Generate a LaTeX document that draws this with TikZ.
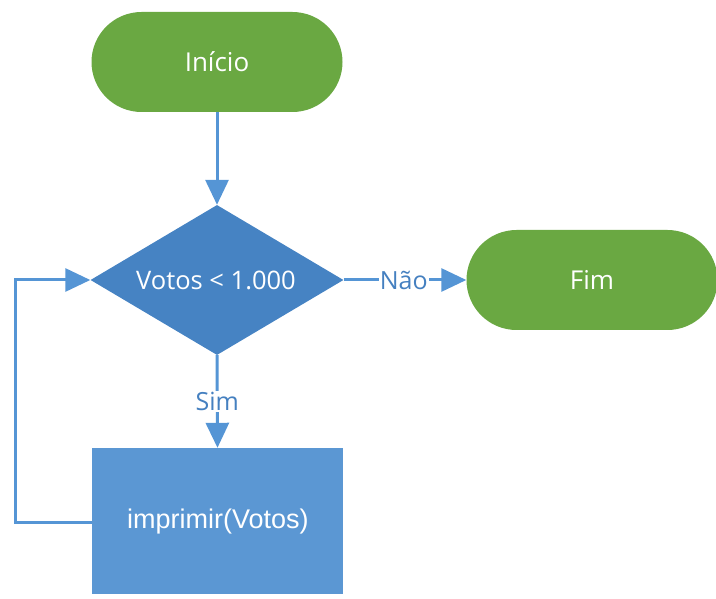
\documentclass[tikz,border=0pt]{standalone}
\usepackage{fontspec}
\setmainfont{Open Sans}
\newfontfamily\arialfont{Liberation Sans}
\usetikzlibrary{shapes.geometric,arrows.meta}
\definecolor{fgreen}{HTML}{6AA842}
\definecolor{dblue}{HTML}{4683C3}
\definecolor{rblue}{HTML}{5B97D3}
\definecolor{lblue}{HTML}{5595D5}
\definecolor{tblue}{HTML}{4580C0}
\begin{document}
\begin{tikzpicture}[x=1pt,y=-1pt,
  term/.style={draw=none,fill=fgreen,rounded corners=50pt,minimum width=251pt,minimum height=100pt,text=white,font=\fontsize{26}{30}\selectfont},
  decision/.style={diamond,draw=none,fill=dblue,minimum width=253pt,minimum height=150pt,inner sep=0pt},
  dectext/.style={text=white,font=\fontsize{25.5}{30}\selectfont},
  proc/.style={rectangle,draw=none,fill=rblue,minimum width=251pt,minimum height=146pt},
  proctext/.style={text=white,font=\arialfont\fontsize{27}{31}\selectfont},
  conn/.style={draw=lblue,line width=3pt,-{Triangle[length=25pt,width=23pt]}},
  lab/.style={fill=white,text=tblue,inner sep=1pt,font=\fontsize{25}{28}\selectfont}]
\useasboundingbox (0,0) rectangle (716,599);
\node[term] (ini) at (217,62) {Início};
\node[decision] (dec) at (217,280) {};
\node[dectext] (dect) at (216,280) {Votos < 1.000};
\node[term] (fim) at (592,280) {Fim};
\node[proc] (pr) at (217.5,521) {};
\node[proctext] (prt) at (218,522) {imprimir(Votos)};
\coordinate (c1) at (15,522);
\coordinate (c2) at (15,280);
\draw[conn] (ini.south) -- (dec.north);
\draw[conn] (dec.east) -- node[lab,pos=0.49] {Não} (fim.west);
\draw[conn] (dec.south) -- node[lab,pos=0.5] {Sim} (pr.north);
\draw[conn] (pr.west |- c1) -- (c1) -- (c2) -- (dec.west);
\end{tikzpicture}
\end{document}
